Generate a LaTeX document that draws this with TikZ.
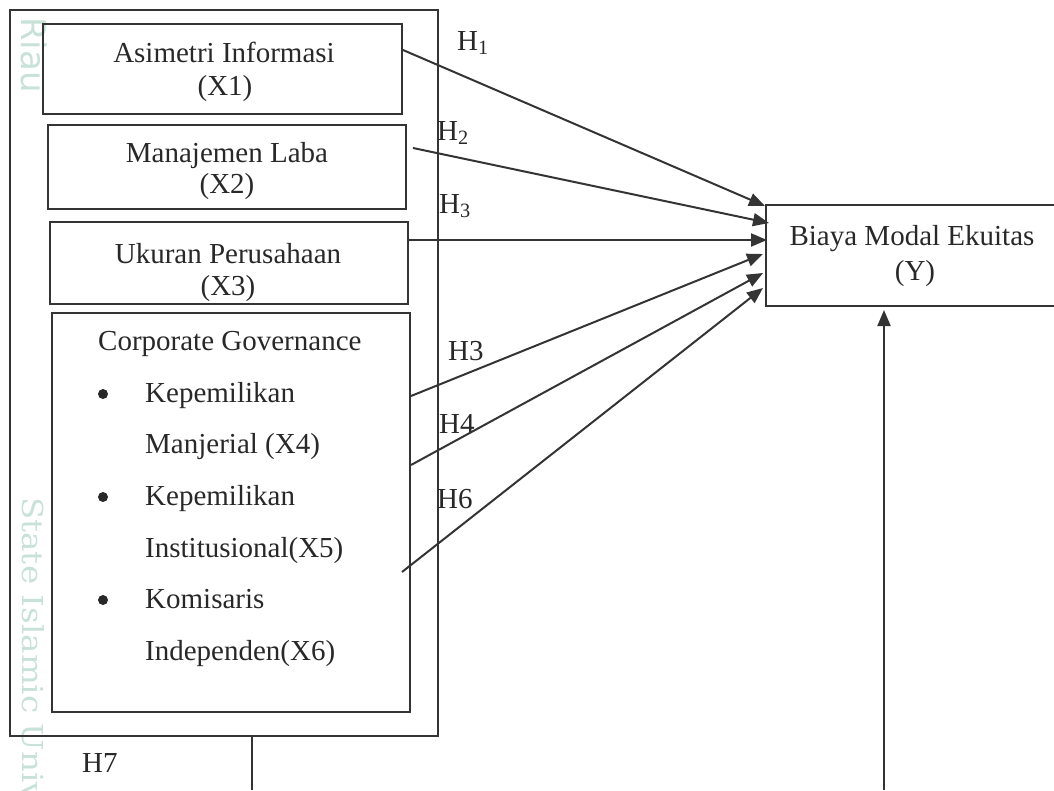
\documentclass[tikz,border=0pt]{standalone}
\usepackage{fontspec}
\setmainfont{Liberation Serif}
\newfontfamily\wmsans{DejaVu Sans}
\newfontfamily\wmserif{DejaVu Serif}
\usetikzlibrary{arrows.meta,calc}
\definecolor{ink}{RGB}{52,52,52}
\definecolor{txt}{RGB}{40,40,40}
\definecolor{wm}{RGB}{200,226,216}
\tikzset{
  box/.style={draw=ink, line width=2pt, inner sep=0pt, outer sep=0pt, anchor=north west},
  lbl/.style={text=txt, inner sep=0pt, anchor=base, font=\fontsize{29pt}{33pt}\selectfont},
  lblw/.style={lbl, anchor=base west},
  conn/.style={draw=ink, line width=2pt},
  arr/.style={conn, -{Triangle[length=16pt,width=13pt]}},
  dot/.style={circle, fill=txt, inner sep=0pt, minimum size=10pt},
  wmtext/.style={text=wm, inner sep=0pt, anchor=base west, rotate=-90}
}
\begin{document}
\begin{tikzpicture}[x=1pt,y=-1pt]
\useasboundingbox (0,0) rectangle (1054,790);
\clip (0,0) rectangle (1054,790);
% watermark side texts
\node[wmtext, font=\wmsans\fontsize{34pt}{34pt}\selectfont] (wm1) at (21,17) {Riau};
\node[wmtext, font=\wmserif\fontsize{28.8pt}{30pt}\selectfont] (wm2) at (22,497) {\scalebox{1.13}[1]{State Islamic Univ}};
% boxes
\node[box, minimum width=428pt, minimum height=726pt] (outer) at (10,10) {};
\node[box, minimum width=359pt, minimum height=90pt] (x1) at (43,24) {};
\node[box, minimum width=358pt, minimum height=84pt] (x2) at (48,125) {};
\node[box, minimum width=358pt, minimum height=82pt] (x3) at (50,222) {};
\node[box, minimum width=358pt, minimum height=399pt] (cg) at (52,313) {};
\node[box, minimum width=300pt, minimum height=101pt] (y) at (766,205) {};
% box texts
\node[lbl] (t1a) at (224,62) {Asimetri Informasi};
\node[lbl] (t1b) at (225,95) {(X1)};
\node[lbl] (t2a) at (227,162) {Manajemen Laba};
\node[lbl] (t2b) at (227,193) {(X2)};
\node[lbl] (t3a) at (228,263) {Ukuran Perusahaan};
\begin{scope}
\clip (50,222) rectangle (408,302);
\node[lbl] (t3b) at (228,295) {(X3)};
\end{scope}
\node[lbl] (ty1) at (912,245) {Biaya Modal Ekuitas};
\node[lbl] (ty2) at (915,280) {(Y)};
% corporate governance list
\node[lblw] (cgt) at (98,350) {Corporate Governance};
\node[dot] (b1) at (103,394) {};
\node[dot] (b2) at (103,497) {};
\node[dot] (b3) at (103,600) {};
\node[lblw] (k1) at (145,402) {Kepemilikan};
\node[lblw] (k2) at (145,453) {Manjerial (X4)};
\node[lblw] (k3) at (145,505) {Kepemilikan};
\node[lblw] (k4) at (145,557) {Institusional(X5)};
\node[lblw] (k5) at (145,608) {Komisaris};
\node[lblw] (k6) at (145,660) {Independen(X6)};
% hypothesis labels
\node[lblw] (h1) at (457,50) {H\textsubscript{1}};
\node[lblw] (h2) at (437,140) {H\textsubscript{2}};
\node[lblw] (h3a) at (439,213) {H\textsubscript{3}};
\node[lblw] (h3b) at (448,360) {H3};
\node[lblw] (h4) at (439,433) {H4};
\node[lblw] (h6) at (437,508) {H6};
\node[lblw] (h7) at (82,772) {H7};
% connector end points
\coordinate (s1) at (403,50);
\coordinate (s2) at (413,148);
\coordinate (s3) at (408,240);
\coordinate (s4) at (411,396);
\coordinate (s5) at (411,465);
\coordinate (s6) at (402,572);
\coordinate (e1) at (765,206);
\coordinate (e2) at (769,223);
\coordinate (e3) at (767,240);
\coordinate (e4) at (763,254);
\coordinate (e5) at (763,273);
\coordinate (e6) at (763,288);
\coordinate (dn1) at (252,790);
\coordinate (dn2) at (884,790);
\coordinate (up) at (884,310);
% connectors
\draw[arr] (s1) -- (e1);
\draw[arr] (s2) -- (e2);
\draw[arr] (s3) -- (e3);
\draw[arr] (s4) -- (e4);
\draw[arr] (s5) -- (e5);
\draw[arr] (s6) -- (e6);
\draw[conn] (outer.south -| dn1) -- (dn1);
\draw[arr] (dn2) -- (up);
\end{tikzpicture}
\end{document}
